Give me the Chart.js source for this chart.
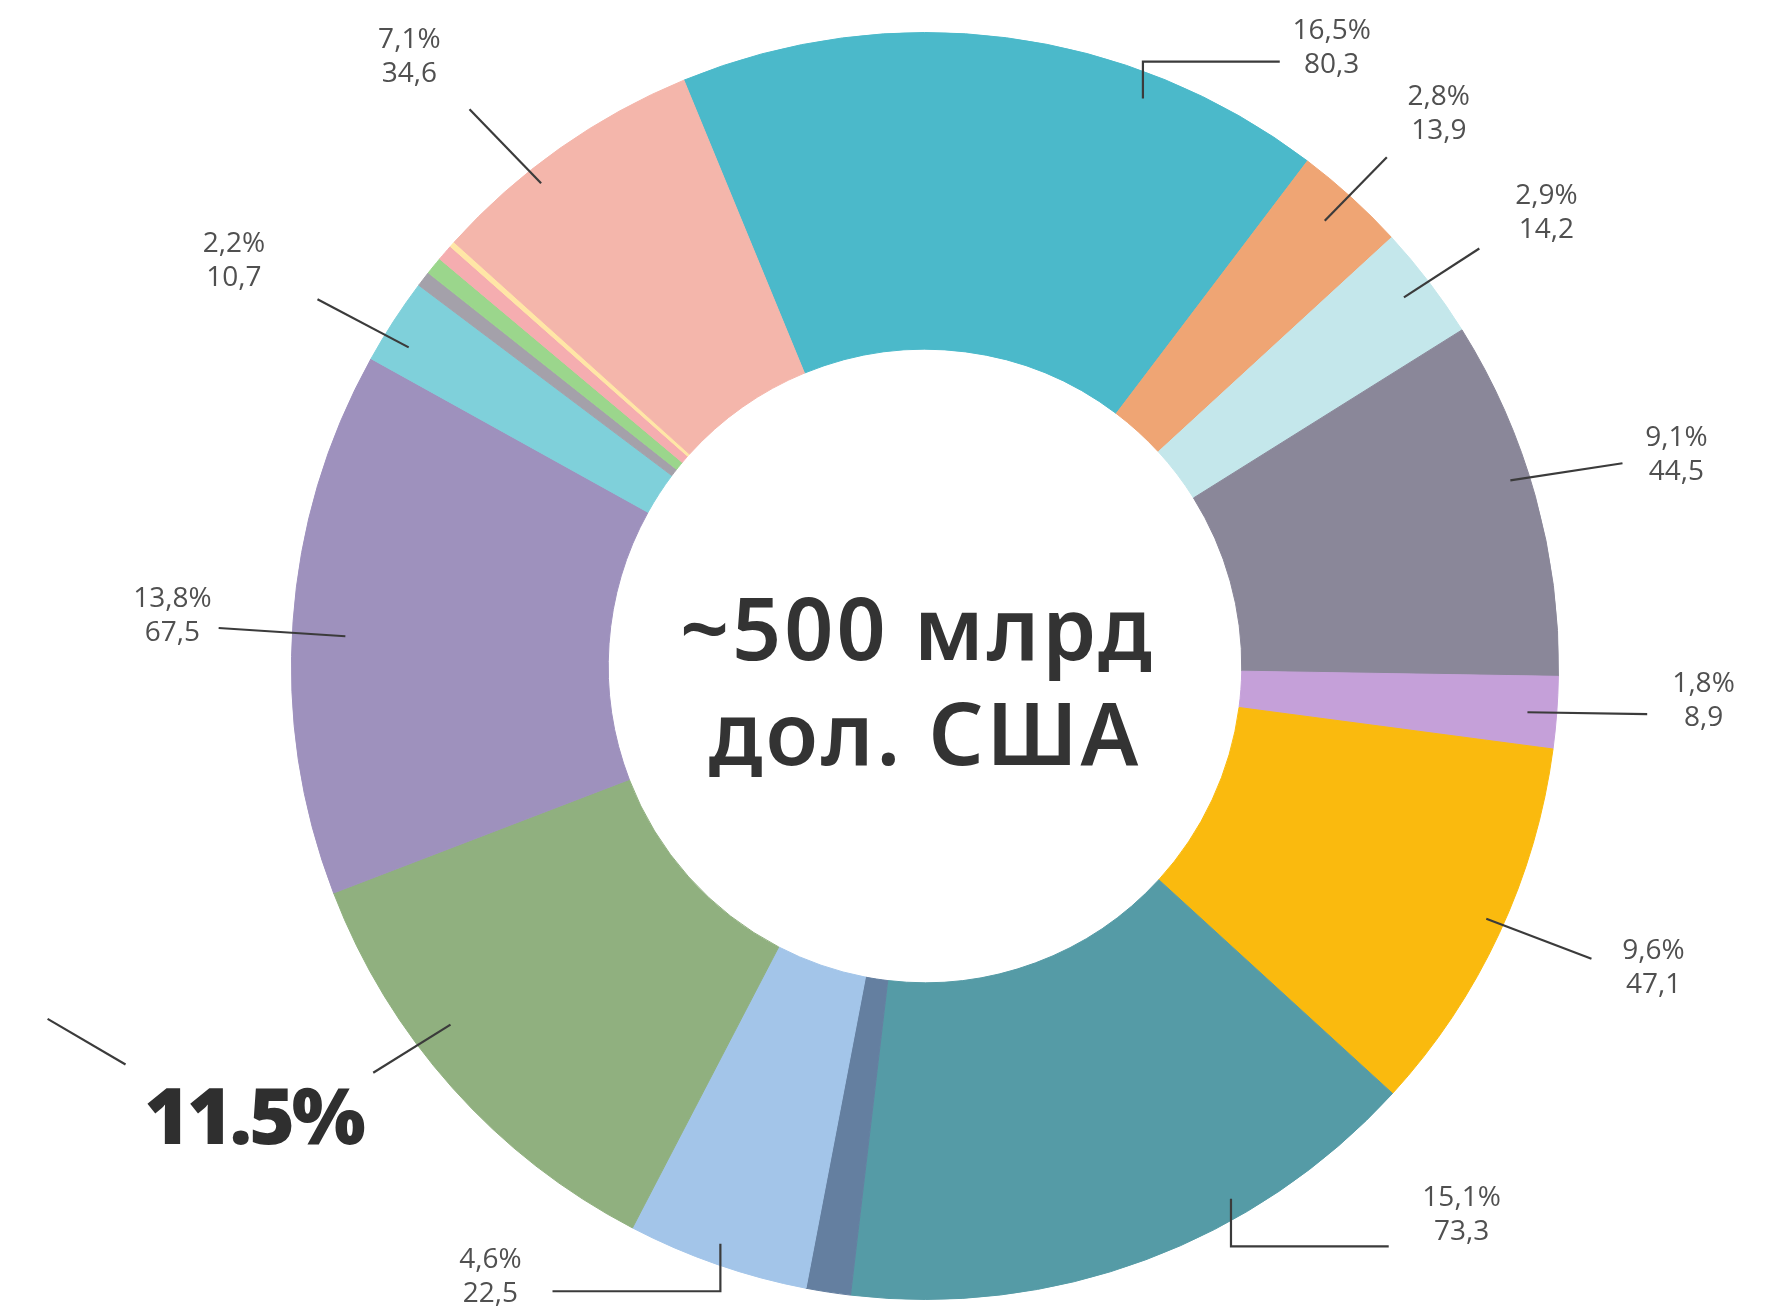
<!DOCTYPE html>
<html>
<head>
<meta charset="utf-8">
<script src="https://cdn.jsdelivr.net/npm/chart.js@4.4.0/dist/chart.umd.min.js"></script>
<style>
    html, body { margin: 0; padding: 0; background: #ffffff; }
    #chartBox { width: 1777px; height: 1313px; }
</style>
</head>
<body>
<div id="chartBox"><canvas id="donut" width="1777" height="1313"></canvas></div>
<script>
// slice values, млрд дол. США (clockwise from the big cyan slice)
const values = [80.3, 13.9, 14.2, 44.5, 8.9, 47.1, 73.3, 5.5, 22.5, 56.0, 67.5, 10.7, 1.9, 2.2, 2.0, 0.7, 34.6];
const shareLabels = ['16,5%', '2,8%', '2,9%', '9,1%', '1,8%', '9,6%', '15,1%', null, '4,6%', '11.5%', '13,8%', '2,2%', null, null, null, null, '7,1%'];
const valueLabels = ['80,3', '13,9', '14,2', '44,5', '8,9', '47,1', '73,3', null, '22,5', null, '67,5', '10,7', null, null, null, null, '34,6'];
const sliceColors = [
    '#4bb9ca', '#efa574', '#c4e7eb', '#8a8799', '#c5a0d9', '#faba0e', '#559ba6', '#647fa0',
    '#a3c5e9', '#90b07f', '#9e91bd', '#7fd0da', '#a4a1aa', '#9bd68c', '#f5adb0', '#ffe6a6', '#f4b6ab'
];
const centerLines = ['~500 млрд', 'дол. США'];

// leader lines and label spots, in units of the outer radius from the centre
const labelLayout = {
    0: { path: [[0.344, -0.896], [0.344, -0.954], [0.560, -0.954]], at: [0.642, -0.975] },
    1: { path: [[0.631, -0.703], [0.729, -0.803]], at: [0.811, -0.871] },
    2: { path: [[0.756, -0.582], [0.875, -0.659]], at: [0.981, -0.715] },
    3: { path: [[0.924, -0.293], [1.101, -0.320]], at: [1.186, -0.333] },
    4: { path: [[0.951, 0.073], [1.140, 0.076]], at: [1.229, 0.055] },
    5: { path: [[0.886, 0.399], [1.052, 0.462]], at: [1.150, 0.476] },
    6: { path: [[0.483, 0.841], [0.483, 0.916], [0.732, 0.916]], at: [0.847, 0.866] },
    8: { path: [[-0.323, 0.912], [-0.323, 0.987], [-0.588, 0.987]], at: [-0.686, 0.965] },
    9: { path: [[-0.749, 0.566], [-0.871, 0.642]], at: [-1.060, 0.755], big: true },
    10: { path: [[-0.915, -0.047], [-1.115, -0.060]], at: [-1.188, -0.079] },
    11: { path: [[-0.815, -0.503], [-0.959, -0.579]], at: [-1.091, -0.639] },
    16: { path: [[-0.606, -0.762], [-0.719, -0.879]], at: [-0.814, -0.962] }
};
const strayLine = [[-1.385, 0.557], [-1.262, 0.629]];

const labelsPlugin = {
    id: 'donutLabels',
    afterDraw(chart) {
        const ctx = chart.ctx;
        const arc = chart.getDatasetMeta(0).data[0];
        const cx = arc.x;
        const cy = arc.y;
        const R = arc.outerRadius;
        const px = p => [cx + p[0] * R, cy + p[1] * R];

        ctx.save();
        ctx.strokeStyle = '#3b3b3b';
        ctx.lineWidth = 2.2;
        ctx.lineCap = 'butt';

        const drawPath = pts => {
            ctx.beginPath();
            pts.forEach((p, i) => {
                const [x, y] = px(p);
                if (i === 0) ctx.moveTo(x, y); else ctx.lineTo(x, y);
            });
            ctx.stroke();
        };

        Object.keys(labelLayout).forEach(key => {
            const i = Number(key);
            const item = labelLayout[i];
            drawPath(item.path);
            const [lx, ly] = px(item.at);
            ctx.textAlign = 'center';
            if (item.big) {
                ctx.fillStyle = '#2f2f2f';
                ctx.font = '800 78px "Open Sans", sans-serif';
                ctx.letterSpacing = '-3px';
                ctx.textBaseline = 'alphabetic';
                ctx.fillText(shareLabels[i], lx, ly);
                ctx.letterSpacing = '0px';
            } else {
                ctx.fillStyle = '#505050';
                ctx.font = '400 28px "Open Sans", sans-serif';
                ctx.textBaseline = 'middle';
                ctx.fillText(shareLabels[i], lx, ly - 17);
                ctx.fillText(valueLabels[i], lx, ly + 17);
            }
        });
        drawPath(strayLine);

        ctx.fillStyle = '#333333';
        ctx.font = '600 86px "Noto Sans", sans-serif';
        ctx.letterSpacing = '3px';
        ctx.textAlign = 'center';
        ctx.textBaseline = 'alphabetic';
        ctx.fillText(centerLines[0], cx - 0.012 * R, cy - 0.009 * R);
        ctx.fillText(centerLines[1], cx, cy + 0.156 * R);
        ctx.restore();
    }
};

function createDonut() {
    const ctx = document.getElementById('donut').getContext('2d');
    return new Chart(ctx, {
        type: 'doughnut',
        data: {
            labels: values.map((v, i) => shareLabels[i] || ''),
            datasets: [
                {
                    data: values,
                    backgroundColor: sliceColors,
                    borderColor: sliceColors,
                    borderWidth: 1,
                    hoverOffset: 0
                }
            ]
        },
        options: {
            responsive: false,
            animation: false,
            devicePixelRatio: 1,
            cutout: '50%',
            rotation: -22.37,
            layout: {
                padding: { top: 32, bottom: 13, left: 291, right: 218 }
            },
            plugins: {
                legend: { display: false },
                tooltip: { enabled: false }
            }
        },
        plugins: [labelsPlugin]
    });
}

createDonut();
</script>
</body>
</html>
